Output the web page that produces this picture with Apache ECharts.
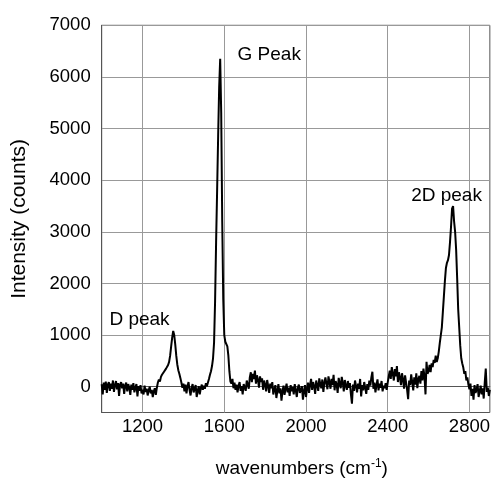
<!DOCTYPE html>
<html><head><meta charset="utf-8">
<script src="https://cdn.jsdelivr.net/npm/echarts@6/dist/echarts.min.js"></script>
<style>html,body{margin:0;padding:0;background:#fff}#c{width:493px;height:483px}</style>
</head><body><div id="c"></div>
<script>
const wavenumberStart = 1000;
const wavenumberStep = 5;
const intensity = [
  // 1000-1095
  50,-150,80,-60,100,-120,40,90,-80,60,-40,120,-100,30,110,-50,70,-180,40,90,
  // 1100-1195
  -30,60,-140,20,80,-90,50,-20,-160,40,-60,70,-110,-20,50,-190,10,-80,30,-130,
  // 1200-1295
  -60,-150,20,-100,-40,-170,-70,0,-130,-60,-200,-90,-30,-160,-20,80,140,100,190,230,
  // 1300-1395 (D peak)
  200,290,260,350,330,420,480,600,780,950,1080,1000,820,600,430,320,250,170,80,-20,
  // 1400-1495
  60,-90,40,-130,10,90,-60,-170,-20,50,-110,-40,30,-200,-80,10,-150,-30,40,-60,
  // 1500-1595 (G peak)
  20,-40,70,10,80,150,230,300,400,550,850,1650,2800,3800,4850,5800,6350,5300,3200,1700,
  // 1600-1695
  1000,870,840,780,600,300,100,60,150,-30,80,-60,40,-110,20,90,-80,10,-150,50,
  // 1700-1795
  30,-80,120,40,-40,180,280,90,250,150,310,60,220,130,-20,200,90,160,-60,120,
  // 1800-1895
  40,-90,130,10,-120,60,-30,90,-150,-60,30,-220,-80,50,-130,-30,-270,-90,20,-160,
  // 1900-1995
  -40,60,-110,-20,-180,30,-90,-10,-150,50,-70,-200,-20,40,-120,-60,10,-250,-90,30,
  // 2000-2095
  -200,-40,80,-120,40,150,-60,90,10,-140,120,30,-80,160,50,-30,140,-100,70,180,
  // 2100-2195
  60,-50,200,90,-40,150,30,230,-70,110,40,-120,170,60,-30,190,80,-90,130,20,
  // 2200-2295
  -60,110,-20,70,-150,-330,40,-80,120,10,-110,60,-40,150,-190,30,-70,90,-20,-140,
  // 2300-2395
  50,-60,120,20,180,290,-40,80,-110,30,140,-70,60,-20,110,-90,20,-30,70,-60,
  // 2400-2495
  80,200,310,150,380,250,120,340,200,400,90,280,180,30,260,140,-40,220,80,-60,
  // 2500-2595
  -240,120,30,240,90,-70,180,40,260,-30,150,210,60,300,120,350,200,-150,480,250,
  // 2600-2695 (2D peak rise)
  300,420,280,450,380,520,460,600,480,550,680,850,1000,1150,1450,1750,2050,2300,2400,2450,
  // 2700-2795
  2550,2800,3100,3450,3500,3200,3000,2650,2100,1500,1150,800,550,450,370,250,300,120,180,40,
  // 2800-2900
  -50,60,-180,-40,-250,30,-120,-60,50,-200,-90,20,-150,-30,-230,80,350,-100,-20,-180,-60
];
const xTickValues = [1200, 1600, 2000, 2400, 2800];
const yTickValues = [0, 1000, 2000, 3000, 4000, 5000, 6000, 7000];
const peakNames = ['D peak', 'G Peak', '2D peak'];
const peakNameWavenumber = [1185, 1820, 2688];
const peakNameIntensity = [1290, 6420, 3700];

const spectrum = intensity.map((v, i) => [wavenumberStart + i * wavenumberStep, v]);
const peakLabelData = peakNames.map((n, i) => ({ name: n, value: [peakNameWavenumber[i], peakNameIntensity[i]] }));

const FONT = '"Liberation Sans", Arial, Helvetica, sans-serif';
const TXT = '#000';
const chart = echarts.init(document.getElementById('c'), null, { renderer: 'canvas' });
chart.setOption({
  animation: false,
  backgroundColor: '#fff',
  grid: { left: 101.7, right: 1.5, top: 25.3, bottom: 68.4, show: true, borderColor: '#555', borderWidth: 1, backgroundColor: 'transparent' },
  xAxis: {
    type: 'value', min: 1000, max: 2900,
    name: '{a|wavenumbers (cm}{s|-1}{a|)}',
    nameLocation: 'middle', nameGap: 45,
    nameTextStyle: { padding: [0, 0, 0, 12], rich: { a: { fontFamily: FONT, fontSize: 19, color: TXT }, s: { fontFamily: FONT, fontSize: 12, color: TXT, verticalAlign: 'top', padding: [0, 0, 10, 0] } } },
    axisLine: { show: true, lineStyle: { color: '#555', width: 1 } },
    axisTick: { show: false, customValues: xTickValues },
    axisLabel: { customValues: xTickValues, formatter: v => String(v), fontFamily: FONT, fontSize: 18.5, color: TXT, margin: 5 },
    splitLine: { show: true, lineStyle: { color: '#999', width: 1 } }
  },
  yAxis: {
    type: 'value', min: -500, max: 7000,
    name: 'Intensity (counts)', nameLocation: 'middle', nameGap: 72,
    nameTextStyle: { fontFamily: FONT, fontSize: 21, color: TXT },
    axisLine: { show: true, lineStyle: { color: '#555', width: 1 } },
    axisTick: { show: false, customValues: yTickValues },
    axisLabel: { customValues: yTickValues, formatter: v => String(v), fontFamily: FONT, fontSize: 18.5, color: TXT, margin: 11 },
    splitLine: { show: true, lineStyle: { color: '#999', width: 1 } }
  },
  series: [
    {
      type: 'line', data: spectrum, showSymbol: false, symbol: 'none',
      lineStyle: { color: '#000', width: 2 }, z: 3
    },
    {
      type: 'scatter', data: peakLabelData, symbolSize: 0,
      itemStyle: { color: '#000' },
      label: { show: true, position: 'inside', formatter: '{b}', fontFamily: FONT, fontSize: 19, color: '#000', textBorderWidth: 0, opacity: 1 },
      emphasis: { disabled: true },
      z: 4
    }
  ]
});
</script>
</body></html>
